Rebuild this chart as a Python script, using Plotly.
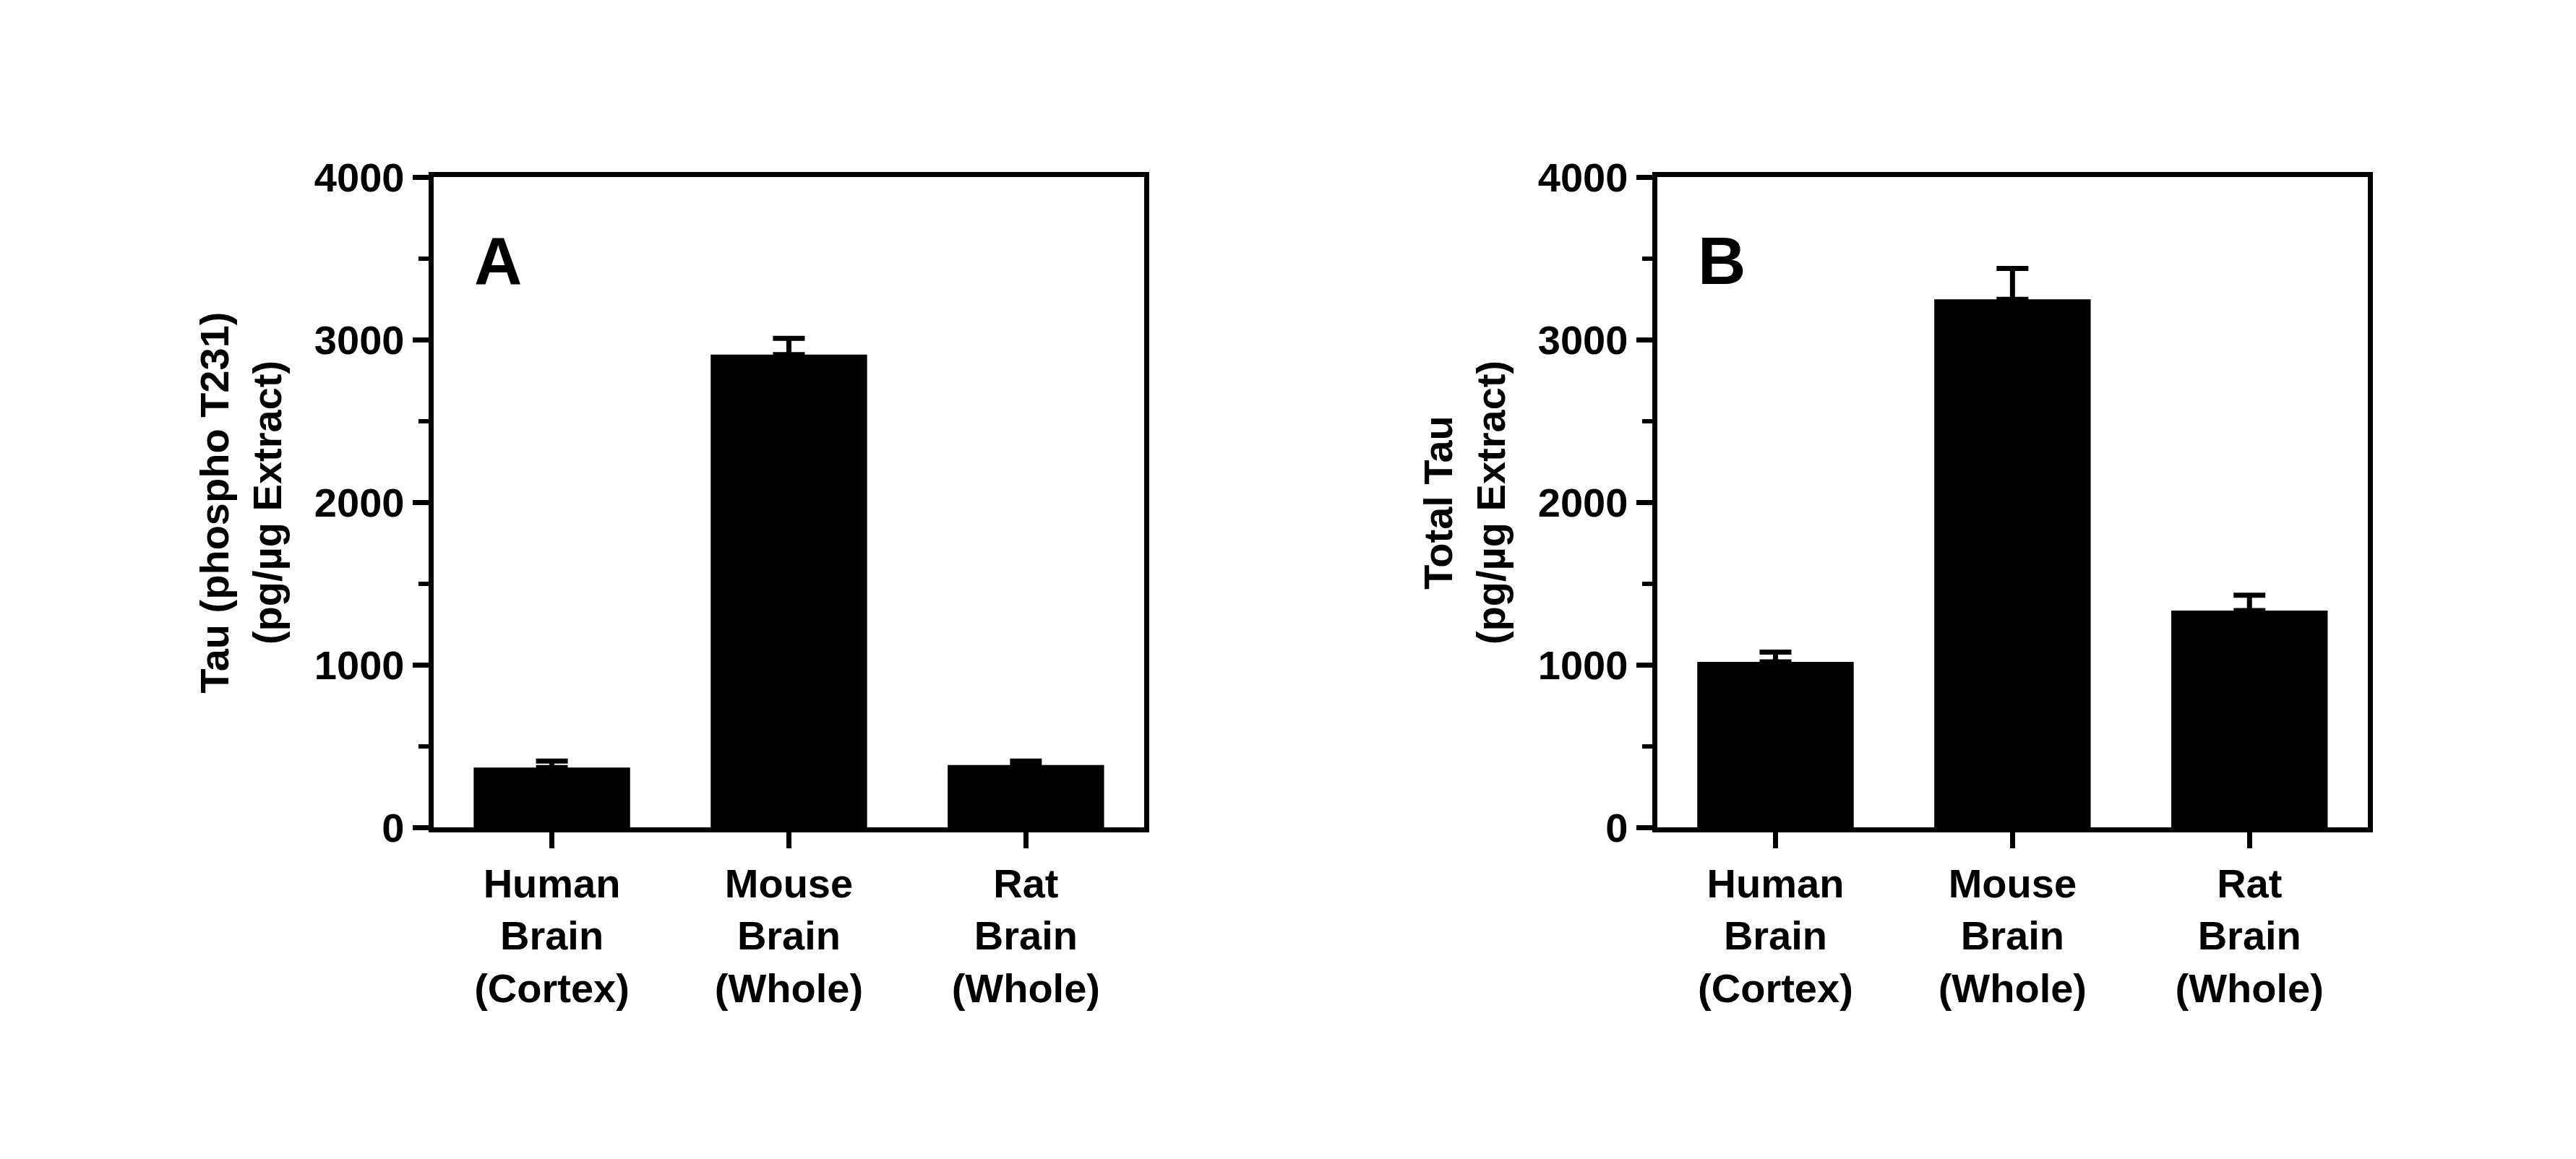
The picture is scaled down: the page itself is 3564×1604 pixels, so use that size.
import plotly.graph_objects as go
from plotly.subplots import make_subplots

categories = ["Human<br>Brain<br>(Cortex)", "Mouse<br>Brain<br>(Whole)", "Rat<br>Brain<br>(Whole)"]
a_values = [370, 2910, 385]
a_errors = [40, 100, 25]
b_values = [1020, 3250, 1335]
b_errors = [60, 190, 95]

fig = make_subplots(rows=1, cols=2)
for i, (v, e) in enumerate([(a_values, a_errors), (b_values, b_errors)], start=1):
    fig.add_trace(go.Bar(x=categories, y=v, width=0.66, marker=dict(color="black", line=dict(width=0)),
                         error_y=dict(type="data", array=e, arrayminus=[0]*3, symmetric=False,
                                      color="black", thickness=7, width=22)), row=1, col=i)

font = dict(family="Liberation Sans", size=56, color="black", weight="bold")
fig.update_layout(width=3564, height=1604, plot_bgcolor="white", paper_bgcolor="white",
                  showlegend=False, margin=dict(l=0, r=0, t=0, b=0), font=font)
fig.update_xaxes(showline=True, linewidth=7, linecolor="black", mirror=True, ticks="outside",
                 ticklen=22, tickwidth=7, tickcolor="black", range=[-0.5, 2.5], tickfont=font)
fig.update_yaxes(showline=True, linewidth=7, linecolor="black", mirror=True, ticks="outside",
                 ticklen=22, tickwidth=7, tickcolor="black", range=[0, 4000], dtick=1000,
                 showgrid=False, zeroline=False, tickfont=font,
                 minor=dict(ticks="outside", dtick=500, ticklen=14, tickwidth=6, tickcolor="black"))
fig.update_xaxes(domain=[0.166, 0.442], row=1, col=1)
fig.update_xaxes(domain=[0.641, 0.917], row=1, col=2)
fig.update_yaxes(domain=[0.282, 0.866])
fig.update_yaxes(title=dict(text="Tau (phospho T231)<br>(pg/µg Extract)", font=font, standoff=30), row=1, col=1)
fig.update_yaxes(title=dict(text="Total Tau<br>(pg/µg Extract)", font=font, standoff=30), row=1, col=2)
for ref, letter in [("x domain", "A"), ("x2 domain", "B")]:
    fig.add_annotation(xref=ref, yref="y domain" if letter == "A" else "y2 domain", x=0.055, y=0.93,
                       xanchor="left", yanchor="top", text=letter, showarrow=False,
                       font=dict(family="Liberation Sans", size=92, color="black", weight="bold"))
fig.write_html("out.html")
